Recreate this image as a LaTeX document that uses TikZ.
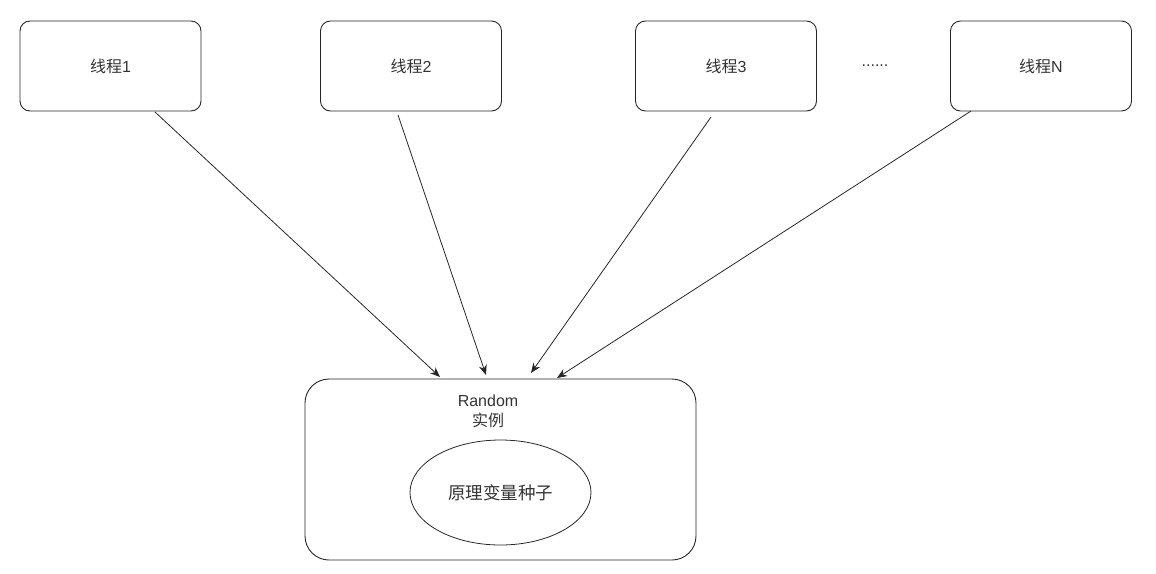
\documentclass[tikz,border=0pt]{standalone}
\usepackage{fontspec}
\setmainfont{Noto Sans CJK SC}
\newfontfamily\latinfont{Liberation Sans}
\usetikzlibrary{arrows.meta,shapes.geometric}
\begin{document}
\begin{tikzpicture}[x=1pt,y=-1pt,
  thread/.style={draw=black!85, line width=0.9pt, rounded corners=10pt, minimum width=181pt, minimum height=90pt, inner sep=0pt, font=\fontsize{16}{19}\selectfont, text=black!80},
  conn/.style={draw=black!85, line width=0.8pt, -{Stealth[length=10pt,width=8pt]}},
  lbl/.style={font=\fontsize{16}{20}\selectfont, text=black!80, align=center}]
\useasboundingbox (0,0) rectangle (1156,573);
\node[thread] (t1) at (110.5,66) {线程{\latinfont 1}};
\node[thread] (t2) at (411,66) {线程{\latinfont 2}};
\node[thread] (t3) at (726,66) {线程{\latinfont 3}};
\node[thread] (tn) at (1041,66) {线程{\latinfont N}};
\node[lbl] (dots) at (875,66) {\latinfont ......};
\node[draw=black!85, line width=0.9pt, rounded corners=24pt, minimum width=391pt, minimum height=181pt, inner sep=0pt] (rnd) at (500.5,469.5) {};
\node[lbl] (rtxt) at (488,411) {{\latinfont Random}\\实例};
\node[draw=black!85, line width=0.8pt, ellipse, minimum width=181pt, minimum height=105pt, inner sep=0pt, font=\fontsize{17.5}{20}\selectfont, text=black!80] (seed) at (500.5,492.5) {原理变量种子};
\coordinate (s1) at (155,112);
\coordinate (s2) at (398,115);
\coordinate (s3) at (711,117);
\coordinate (s4) at (971,111);
\coordinate (e1) at (440,377);
\coordinate (e2) at (486,375);
\coordinate (e3) at (531,373);
\coordinate (e4) at (557,378);
\draw[conn] (s1) -- (e1);
\draw[conn] (s2) -- (e2);
\draw[conn] (s3) -- (e3);
\draw[conn] (s4) -- (e4);
\end{tikzpicture}
\end{document}
